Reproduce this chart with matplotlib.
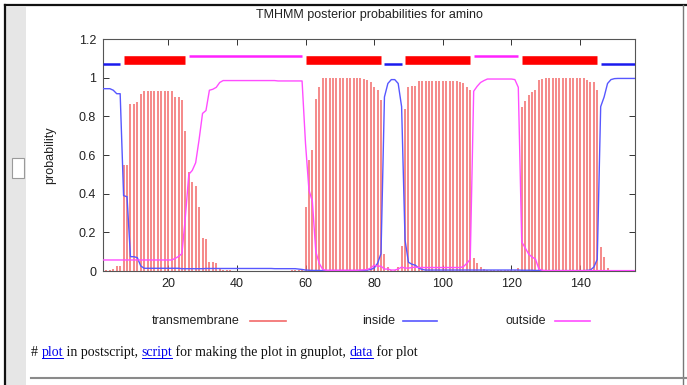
import matplotlib
matplotlib.use('Agg')
import matplotlib.pyplot as plt
from matplotlib.lines import Line2D
from matplotlib.patches import Rectangle

# ---------------- data ----------------
residues = list(range(1, 157))

transmembrane = [
    0.000, 0.004, 0.004, 0.008, 0.026, 0.026, 0.547, 0.547, 0.866, 0.866,
    0.874, 0.917, 0.929, 0.929, 0.929, 0.929, 0.929, 0.929, 0.929, 0.929,
    0.929, 0.900, 0.900, 0.883, 0.725, 0.513, 0.461, 0.440, 0.329, 0.169,
    0.165, 0.048, 0.048, 0.043, 0.008, 0.003, 0.003, 0.003, 0.002, 0.002,
    0.002, 0.002, 0.002, 0.002, 0.002, 0.002, 0.002, 0.002, 0.002, 0.002,
    0.002, 0.002, 0.002, 0.002, 0.002, 0.003, 0.003, 0.004, 0.005, 0.332,
    0.573, 0.625, 0.890, 0.950, 0.997, 0.997, 0.997, 0.997, 0.997, 0.997,
    0.997, 0.997, 0.997, 0.997, 0.997, 0.997, 0.995, 0.990, 0.980, 0.950,
    0.935, 0.883, 0.090, 0.020, 0.005, 0.005, 0.020, 0.130, 0.840, 0.950,
    0.955, 0.957, 0.983, 0.983, 0.983, 0.983, 0.983, 0.983, 0.983, 0.983,
    0.983, 0.983, 0.983, 0.983, 0.978, 0.970, 0.950, 0.935, 0.065, 0.040,
    0.020, 0.012, 0.006, 0.004, 0.004, 0.004, 0.003, 0.003, 0.003, 0.003,
    0.004, 0.015, 0.850, 0.880, 0.912, 0.926, 0.935, 0.986, 0.995, 0.997,
    0.997, 0.997, 0.997, 0.997, 0.997, 0.997, 0.997, 0.997, 0.997, 0.997,
    0.997, 0.990, 0.978, 0.978, 0.935, 0.126, 0.074, 0.014, 0.003, 0.002,
    0.002, 0.002, 0.002, 0.002, 0.002, 0.002,
]

inside = [
    0.943, 0.943, 0.943, 0.935, 0.917, 0.917, 0.390, 0.384, 0.074, 0.074,
    0.069, 0.026, 0.014, 0.014, 0.014, 0.014, 0.014, 0.014, 0.014, 0.014,
    0.014, 0.014, 0.014, 0.012, 0.012, 0.012, 0.012, 0.012, 0.012, 0.012,
    0.013, 0.013, 0.013, 0.013, 0.013, 0.013, 0.013, 0.013, 0.013, 0.013,
    0.013, 0.013, 0.013, 0.013, 0.013, 0.013, 0.013, 0.013, 0.013, 0.013,
    0.012, 0.012, 0.012, 0.012, 0.012, 0.012, 0.012, 0.010, 0.008, 0.005,
    0.004, 0.003, 0.003, 0.003, 0.002, 0.002, 0.002, 0.002, 0.002, 0.002,
    0.002, 0.002, 0.002, 0.002, 0.002, 0.002, 0.003, 0.005, 0.008, 0.015,
    0.040, 0.090, 0.900, 0.970, 0.990, 0.990, 0.970, 0.850, 0.160, 0.045,
    0.035, 0.030, 0.015, 0.008, 0.005, 0.005, 0.005, 0.005, 0.005, 0.005,
    0.005, 0.005, 0.005, 0.005, 0.005, 0.005, 0.005, 0.005, 0.005, 0.005,
    0.005, 0.005, 0.005, 0.005, 0.005, 0.005, 0.005, 0.005, 0.005, 0.005,
    0.005, 0.005, 0.004, 0.004, 0.004, 0.004, 0.003, 0.003, 0.002, 0.002,
    0.002, 0.002, 0.002, 0.002, 0.002, 0.002, 0.002, 0.002, 0.002, 0.002,
    0.002, 0.003, 0.005, 0.020, 0.060, 0.850, 0.900, 0.970, 0.990, 0.995,
    0.996, 0.996, 0.996, 0.996, 0.996, 0.996,
]

outside = [
    0.057, 0.057, 0.057, 0.057, 0.057, 0.057, 0.057, 0.057, 0.057, 0.057,
    0.057, 0.057, 0.057, 0.057, 0.057, 0.057, 0.057, 0.057, 0.057, 0.057,
    0.057, 0.065, 0.075, 0.090, 0.280, 0.500, 0.520, 0.560, 0.680, 0.815,
    0.830, 0.935, 0.940, 0.950, 0.975, 0.985, 0.985, 0.985, 0.985, 0.985,
    0.985, 0.985, 0.985, 0.985, 0.985, 0.985, 0.985, 0.985, 0.985, 0.985,
    0.985, 0.983, 0.983, 0.983, 0.983, 0.983, 0.983, 0.983, 0.983, 0.660,
    0.420, 0.360, 0.100, 0.040, 0.008, 0.004, 0.004, 0.004, 0.004, 0.004,
    0.004, 0.004, 0.004, 0.004, 0.004, 0.005, 0.006, 0.008, 0.015, 0.030,
    0.025, 0.025, 0.010, 0.010, 0.005, 0.005, 0.010, 0.020, 0.015, 0.015,
    0.018, 0.020, 0.018, 0.018, 0.018, 0.018, 0.018, 0.018, 0.018, 0.018,
    0.018, 0.018, 0.018, 0.018, 0.018, 0.022, 0.040, 0.060, 0.930, 0.955,
    0.975, 0.985, 0.993, 0.993, 0.993, 0.993, 0.993, 0.993, 0.993, 0.993,
    0.990, 0.950, 0.150, 0.120, 0.088, 0.072, 0.062, 0.010, 0.004, 0.002,
    0.002, 0.002, 0.002, 0.002, 0.002, 0.002, 0.002, 0.002, 0.002, 0.002,
    0.002, 0.002, 0.002, 0.002, 0.002, 0.002, 0.002, 0.002, 0.002, 0.002,
    0.002, 0.002, 0.002, 0.002, 0.002, 0.002,
]

segment_types = ['inside', 'TMhelix', 'outside', 'TMhelix', 'inside',
                 'TMhelix', 'outside', 'TMhelix', 'inside']
segment_starts = [1, 7, 26, 60, 83, 89, 109, 123, 146]
segment_ends = [6, 25, 59, 82, 88, 108, 122, 145, 156]

xtick_values = [20, 40, 60, 80, 100, 120, 140]
ytick_values = [0, 0.2, 0.4, 0.6, 0.8, 1.0, 1.2]
ytick_labels = ['0', '0.2', '0.4', '0.6', '0.8', '1', '1.2']

title = 'TMHMM posterior probabilities for amino'
legend_labels = ['transmembrane', 'inside', 'outside']

# ---------------- styling ----------------
W, H = 687, 385
SANS = ['Liberation Sans', 'DejaVu Sans']
SERIF = ['Liberation Serif', 'DejaVu Serif']
FS = 9
c_tm = '#f26a6a'
c_in = '#5757ff'
c_out = '#ff4dff'
seg_style = {
    'inside': (1.07, '#1a1aee', 1.8),
    'TMhelix': (1.09, '#ff0000', 6.2),
    'outside': (1.11, '#ff22ff', 1.8),
}

fig = plt.figure(figsize=(W / 100, H / 100), dpi=100)
fig.patch.set_facecolor('white')


def fx(px):
    return px / W


def fy(py):
    return 1 - py / H


# page decorations (screenshot frame)
fig.add_artist(Rectangle((fx(6), 0), fx(20), fy(7), transform=fig.transFigure,
                         facecolor='#e6e6e6', edgecolor='none'))
fig.add_artist(Line2D([fx(4.5), fx(4.5)], [0, fy(4.5)], transform=fig.transFigure,
                      color='#111111', lw=1.6))
fig.add_artist(Line2D([fx(4.5), 1], [fy(4.5), fy(4.5)], transform=fig.transFigure,
                      color='#111111', lw=1.6))
fig.add_artist(Line2D([fx(683), fx(683)], [0, fy(4.5)], transform=fig.transFigure,
                      color='#777777', lw=1.0))
fig.add_artist(Rectangle((fx(12), fy(178)), fx(12), fy(158) - fy(178),
                         transform=fig.transFigure, facecolor='white',
                         edgecolor='#9a9a9a', lw=0.8))

# main axes
ax = fig.add_axes([fx(103), fy(271), fx(635) - fx(103), fy(39) - fy(271)])
ax.set_xlim(1, 156)
ax.set_ylim(0, 1.2)

ax.vlines(residues, 0, transmembrane, color=c_tm, lw=1.1, zorder=2)
ax.plot(residues, inside, color=c_in, lw=1.0, zorder=3)
ax.plot(residues, outside, color=c_out, lw=1.0, zorder=3)

for t, s, e in zip(segment_types, segment_starts, segment_ends):
    yv, col, lw = seg_style[t]
    ax.plot([s, e], [yv, yv], color=col, lw=lw, solid_capstyle='butt', zorder=4)

ax.set_xticks(xtick_values)
ax.set_yticks(ytick_values)
ax.set_yticklabels(ytick_labels)
ax.tick_params(direction='in', top=True, right=True, length=4, width=0.7,
               color='#333333', labelsize=FS, labelcolor='#222222')
ax.tick_params(axis='x', pad=5)
ax.tick_params(axis='y', pad=5)
for lab in ax.get_xticklabels() + ax.get_yticklabels():
    lab.set_family(SANS)
for sp in ax.spines.values():
    sp.set_color('#555555')
    sp.set_linewidth(0.8)

fig.text(fx(369), fy(15), title, ha='center', va='center', fontsize=FS,
         family=SANS, color='#222222')
fig.text(fx(50), fy(155), 'probability', rotation=90, ha='center', va='center',
         fontsize=FS, family=SANS, color='#222222')

# legend (gnuplot key style: text then sample line)
leg_text_right = [240, 395, 546]
leg_line = [(250, 286), (403, 437), (555, 590)]
leg_cols = [c_tm, c_in, c_out]
leg_y = 321
for lab, xr, (l0, l1), col in zip(legend_labels, leg_text_right, leg_line, leg_cols):
    fig.text(fx(xr), fy(leg_y), lab, ha='right', va='center', fontsize=FS,
             family=SANS, color='#222222')
    fig.add_artist(Line2D([fx(l0), fx(l1)], [fy(leg_y), fy(leg_y)],
                          transform=fig.transFigure, color=col, lw=1.2))

# footer text with links
pieces = [('# ', False), ('plot', True), (' in postscript, ', False),
          ('script', True), (' for making the plot in gnuplot, ', False),
          ('data', True), (' for plot', False)]
renderer = fig.canvas.get_renderer()
xcur = 31.0
ytxt = 356
for txt, link in pieces:
    t = fig.text(fx(xcur), fy(ytxt), txt, ha='left', va='baseline', fontsize=10,
                 family=SERIF, color='#0000ee' if link else '#111111')
    bb = t.get_window_extent(renderer=renderer)
    if link:
        fig.add_artist(Line2D([fx(xcur), fx(xcur + bb.width)], [fy(ytxt + 2), fy(ytxt + 2)],
                              transform=fig.transFigure, color='#0000ee', lw=0.7))
    xcur += bb.width

fig.add_artist(Line2D([fx(31), 1], [fy(378), fy(378)], transform=fig.transFigure,
                      color='#8a8a8a', lw=1.5))

fig.savefig('out.png', dpi=100, facecolor='white')
